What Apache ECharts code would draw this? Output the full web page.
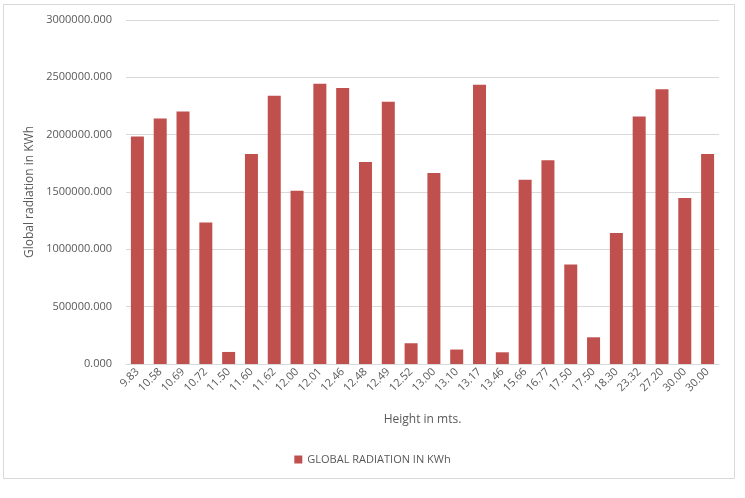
<!DOCTYPE html>
<html>
<head>
<meta charset="utf-8">
<script src="https://cdn.jsdelivr.net/npm/echarts@6/dist/echarts.min.js"></script>
<style>
  html, body { margin: 0; padding: 0; background: #fff; }
  #main { width: 745px; height: 498px; }
</style>
</head>
<body>
<div id="main"></div>
<script>
// heights (category labels)
const heights = ['9.83', '10.58', '10.69', '10.72', '11.50', '11.60', '11.62', '12.00', '12.01',
  '12.46', '12.48', '12.49', '12.52', '13.00', '13.10', '13.17', '13.46', '15.66', '16.77',
  '17.50', '17.50', '18.30', '23.32', '27.20', '30.00', '30.00'];

// global radiation values (KWh), estimated from the bars
const radiation = [1983000, 2140000, 2201000, 1235000, 105000, 1832000, 2339000, 1511000, 2443000,
  2406000, 1762000, 2286000, 181000, 1666000, 126000, 2435000, 102000, 1607000, 1777000,
  868000, 233000, 1142000, 2158000, 2397000, 1447000, 1832000];

const yTicks = [0, 500000, 1000000, 1500000, 2000000, 2500000, 3000000];

const textColor = '#595959';
const barColor = '#C0504D';
const fontFam = '"Open Sans", "Liberation Sans", sans-serif';

var dom = document.getElementById('main');
var myChart = echarts.init(dom, null, { renderer: 'canvas' });

var option = {
  animation: false,
  backgroundColor: '#ffffff',
  textStyle: { fontFamily: fontFam },
  graphic: [
    {
      type: 'rect',
      shape: { x: 3.5, y: 4.5, width: 731, height: 474 },
      style: { fill: 'none', stroke: '#D9D9D9', lineWidth: 1 },
      z: -1
    }
  ],
  grid: {
    left: 126,
    right: 26,
    top: 20,
    bottom: 134
  },
  legend: {
    data: ['GLOBAL RADIATION IN KWh'],
    left: 'center',
    top: 449,
    icon: 'rect',
    itemWidth: 8,
    itemHeight: 8,
    itemGap: 5,
    textStyle: { color: textColor, fontSize: 11, fontFamily: fontFam }
  },
  xAxis: {
    type: 'category',
    data: heights,
    name: 'Height in mts.',
    nameLocation: 'middle',
    nameGap: 50,
    nameTextStyle: { color: textColor, fontSize: 12, fontFamily: fontFam },
    axisLine: { show: true, lineStyle: { color: '#D9D9D9' } },
    axisTick: { show: false },
    axisLabel: {
      rotate: 45,
      interval: 0,
      margin: 6,
      color: textColor,
      fontSize: 11,
      fontFamily: fontFam
    }
  },
  yAxis: {
    type: 'value',
    min: 0,
    max: yTicks[yTicks.length - 1],
    interval: yTicks[1] - yTicks[0],
    name: 'Global radiation in KWh',
    nameLocation: 'middle',
    nameRotate: 90,
    nameGap: 90,
    nameTextStyle: { color: textColor, fontSize: 12, fontFamily: fontFam },
    axisLine: { show: false },
    axisTick: { show: false },
    splitLine: { lineStyle: { color: '#D9D9D9' } },
    axisLabel: {
      color: textColor,
      fontSize: 11,
      margin: 14,
      fontFamily: fontFam,
      formatter: function (v) { return v.toFixed(3); }
    }
  },
  series: [
    {
      name: 'GLOBAL RADIATION IN KWh',
      type: 'bar',
      data: radiation,
      barWidth: 13,
      itemStyle: { color: barColor }
    }
  ]
};

myChart.setOption(option);
window.addEventListener('resize', myChart.resize);
</script>
</body>
</html>
